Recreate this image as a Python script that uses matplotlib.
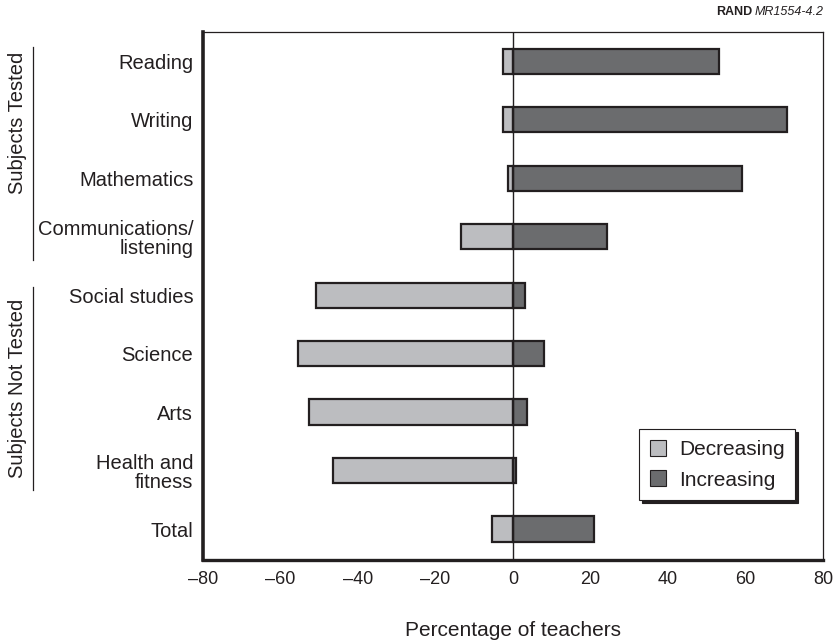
import numpy as np
import matplotlib
matplotlib.use("Agg")
import matplotlib.pyplot as plt
import matplotlib.transforms as mtransforms
from matplotlib.patches import Patch

plt.rcParams['font.family'] = ['Liberation Sans', 'DejaVu Sans']

# Data
categories = ["Reading", "Writing", "Mathematics", "Communications/\nlistening",
              "Social studies", "Science", "Arts", "Health and\nfitness", "Total"]
decreasing = [-2.6, -2.6, -1.3, -13.3, -50.8, -55.6, -52.6, -46.5, -5.5]
increasing = [53.2, 70.8, 59.2, 24.3, 3.2, 8.1, 3.7, 0.9, 21.0]
xticks = [-80, -60, -40, -20, 0, 20, 40, 60, 80]
xtick_labels = ["\u201380", "\u201360", "\u201340", "\u201320", "0", "20", "40", "60", "80"]

LIGHT = "#bcbdc0"
DARK = "#6b6c6e"
EDGE = "#231f20"
FS = 14.5

fig = plt.figure(figsize=(8.38, 6.41), dpi=100)
ax = fig.add_axes([203 / 838, 1 - 560 / 641, 620 / 838, 528 / 641])

y = np.arange(len(categories))
ax.barh(y, decreasing, height=0.43, color=LIGHT, edgecolor=EDGE, linewidth=1.6, zorder=2)
ax.barh(y, increasing, height=0.43, color=DARK, edgecolor=EDGE, linewidth=1.6, zorder=2)
ax.axvline(0, color=EDGE, linewidth=1.0, zorder=3)

ax.set_xlim(-80, 80)
ax.set_ylim(8.53, -0.5)
ax.set_xticks(xticks, xtick_labels)
ax.set_yticks(y, categories)
ax.tick_params(axis='both', length=0, colors=EDGE)
ax.tick_params(axis='x', pad=8, labelsize=13)
ax.tick_params(axis='y', pad=7, labelsize=FS)
for lab in ax.get_yticklabels():
    lab.set_horizontalalignment('right')
    lab.set_multialignment('right')
    lab.set_linespacing(1.05)

ax.spines['left'].set_linewidth(2.6)
ax.spines['bottom'].set_linewidth(2.4)
ax.spines['top'].set_linewidth(0.9)
ax.spines['right'].set_linewidth(0.9)
for s in ax.spines.values():
    s.set_color(EDGE)

ax.set_xlabel("Percentage of teachers", fontsize=15, color=EDGE, labelpad=24)

# group labels on the left
trans = mtransforms.blended_transform_factory(fig.transFigure, ax.transData)
groups = [("Subjects Tested", -0.24, 3.4, 1.05), ("Subjects Not Tested", 3.86, 7.33, 5.6)]
for name, y0, y1, yc in groups:
    ax.plot([33 / 838, 33 / 838], [y0, y1], color=EDGE, linewidth=0.9,
            transform=trans, clip_on=False)
    ax.text(18 / 838, yc, name, rotation=90, ha='center', va='center',
            fontsize=FS, color=EDGE, transform=trans)

# legend
handles = [Patch(facecolor=LIGHT, edgecolor=EDGE, linewidth=0.8, label="Decreasing"),
           Patch(facecolor=DARK, edgecolor=EDGE, linewidth=0.8, label="Increasing")]
leg = ax.legend(handles=handles, loc='lower right', bbox_to_anchor=(795 / 838, 1 - 500 / 641),
                bbox_transform=fig.transFigure, borderaxespad=0, fontsize=15, fancybox=False,
                shadow={'color': EDGE, 'alpha': 1.0}, framealpha=1,
                handlelength=0.8, handleheight=0.8, handletextpad=0.6,
                borderpad=0.5, labelspacing=0.55)
leg.get_frame().set_edgecolor(EDGE)
leg.get_frame().set_linewidth(0.8)
for t in leg.get_texts():
    t.set_color(EDGE)

# RAND tag in the top right corner
tag = fig.text(824 / 838, 1 - 12 / 641, "MR1554-4.2", ha='right', va='center',
               fontsize=9, style='italic', color=EDGE)
renderer = fig.canvas.get_renderer()
bb = tag.get_window_extent(renderer=renderer)
fig.text((bb.x0 - 3) / fig.bbox.width, 1 - 12 / 641, "RAND", ha='right', va='center',
         fontsize=9, fontweight='bold', color=EDGE)

fig.savefig("out.png", dpi=100)
